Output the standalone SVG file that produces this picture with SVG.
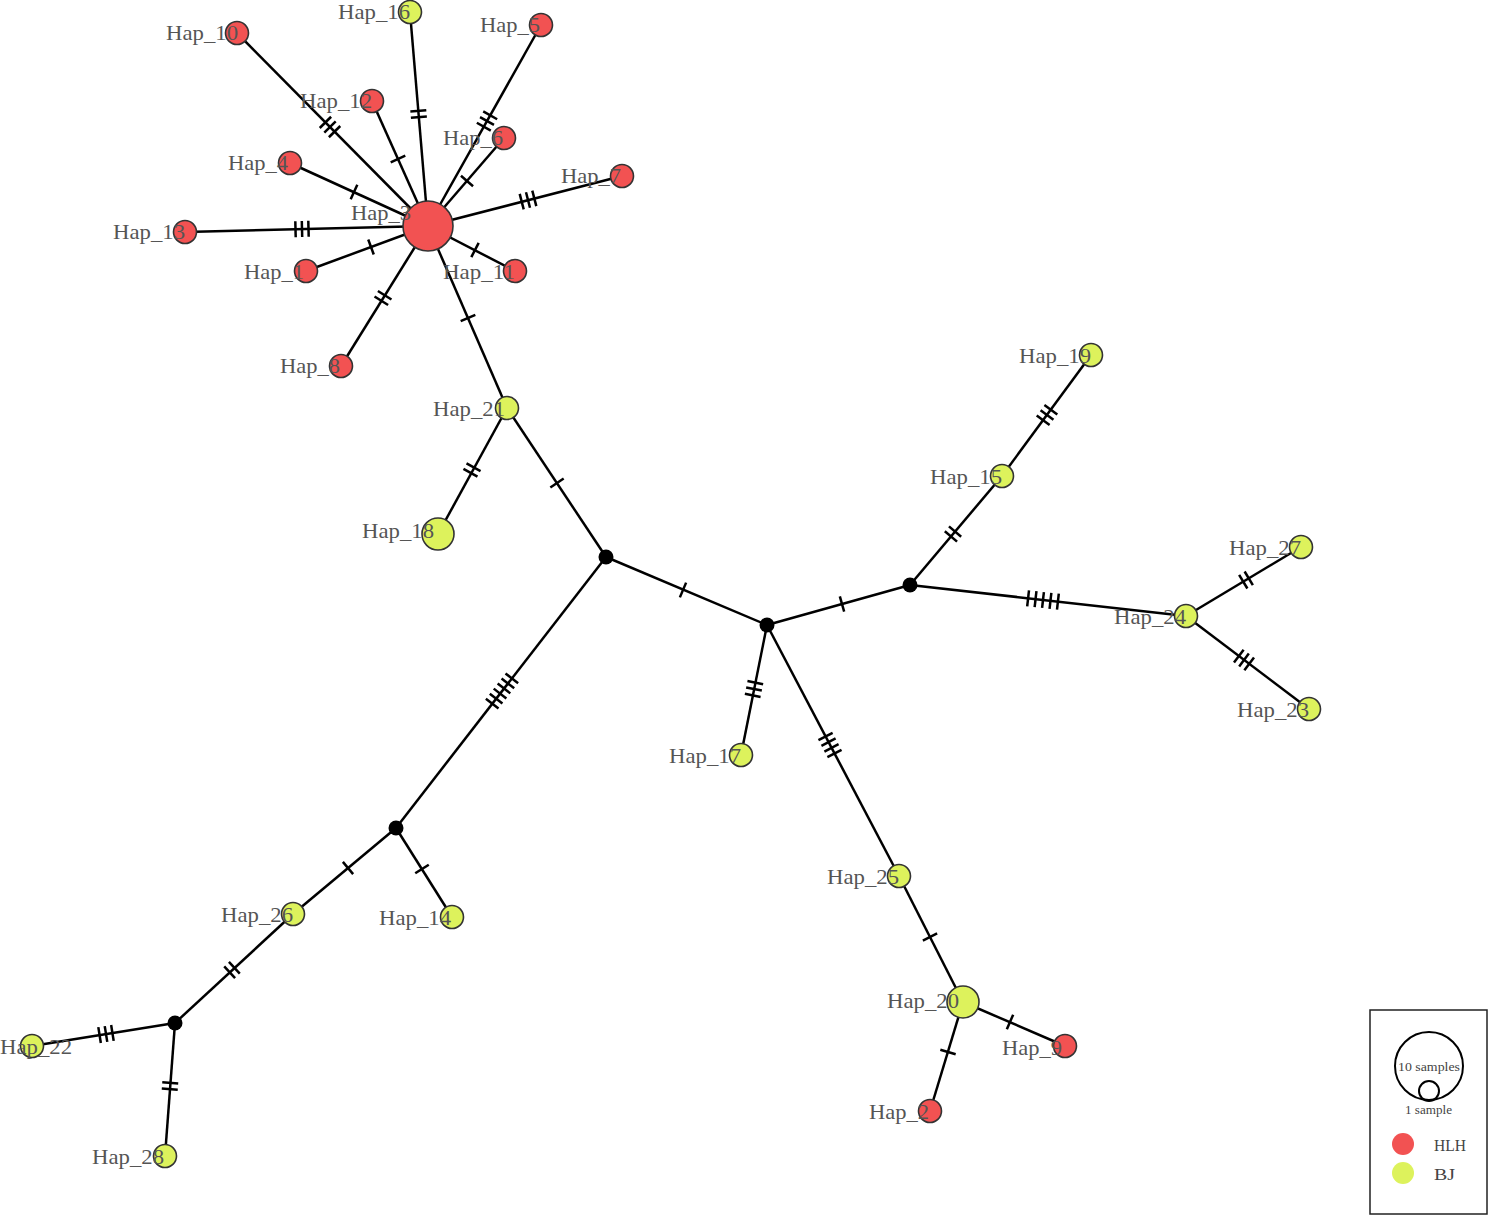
<svg xmlns="http://www.w3.org/2000/svg" xmlns:xlink="http://www.w3.org/1999/xlink" width="1489" height="1216" viewBox="0 0 1489 1216">
<style>
.e{stroke:#000;stroke-width:2.5;fill:none}
.tk line{stroke:#000;stroke-width:2.5}
.lb{font-family:"Liberation Serif","DejaVu Serif",serif;font-size:22px;fill:#555}
.r{fill:#F25252;stroke:#333;stroke-width:1.6}
.y{fill:#DDF25C;stroke:#333;stroke-width:1.6}
.m{fill:#000}
.lg{font-family:"Liberation Serif","DejaVu Serif",serif;fill:#444}
</style>
<defs>
<g id="t1" class="tk"><line x1="0" y1="-8" x2="0" y2="8"/></g>
<g id="t2" class="tk"><line x1="-3.2" y1="-8" x2="-3.2" y2="8"/><line x1="3.2" y1="-8" x2="3.2" y2="8"/></g>
<g id="t3" class="tk"><line x1="-6.5" y1="-8" x2="-6.5" y2="8"/><line x1="0" y1="-8" x2="0" y2="8"/><line x1="6.5" y1="-8" x2="6.5" y2="8"/></g>
<g id="t4" class="tk"><line x1="-9.6" y1="-8" x2="-9.6" y2="8"/><line x1="-3.2" y1="-8" x2="-3.2" y2="8"/><line x1="3.2" y1="-8" x2="3.2" y2="8"/><line x1="9.6" y1="-8" x2="9.6" y2="8"/></g>
<g id="t5" class="tk"><line x1="-15" y1="-8" x2="-15" y2="8"/><line x1="-7.5" y1="-8" x2="-7.5" y2="8"/><line x1="0" y1="-8" x2="0" y2="8"/><line x1="7.5" y1="-8" x2="7.5" y2="8"/><line x1="15" y1="-8" x2="15" y2="8"/></g>
<g id="t6" class="tk"><line x1="-16" y1="-8" x2="-16" y2="8"/><line x1="-9.6" y1="-8" x2="-9.6" y2="8"/><line x1="-3.2" y1="-8" x2="-3.2" y2="8"/><line x1="3.2" y1="-8" x2="3.2" y2="8"/><line x1="9.6" y1="-8" x2="9.6" y2="8"/><line x1="16" y1="-8" x2="16" y2="8"/></g>
</defs>
<rect width="1489" height="1216" fill="#fff"/>
<g id="connectors">
<line class="e" x1="428" y1="226" x2="237" y2="33"/><use xlink:href="#t3" href="#t3" transform="translate(330,127) rotate(45.3)"/>
<line class="e" x1="428" y1="226" x2="372" y2="101"/><use xlink:href="#t1" href="#t1" transform="translate(398,159) rotate(65.9)"/>
<line class="e" x1="428" y1="226" x2="410" y2="12"/><use xlink:href="#t2" href="#t2" transform="translate(418.6,114) rotate(85.2)"/>
<line class="e" x1="428" y1="226" x2="541" y2="25"/><use xlink:href="#t3" href="#t3" transform="translate(487,121) rotate(-60.6)"/>
<line class="e" x1="428" y1="226" x2="504" y2="138"/><use xlink:href="#t1" href="#t1" transform="translate(467,181) rotate(-49.2)"/>
<line class="e" x1="428" y1="226" x2="290" y2="163"/><use xlink:href="#t1" href="#t1" transform="translate(354,192) rotate(24.5)"/>
<line class="e" x1="428" y1="226" x2="622" y2="176"/><use xlink:href="#t3" href="#t3" transform="translate(528,200) rotate(-14.5)"/>
<line class="e" x1="428" y1="226" x2="185" y2="232"/><use xlink:href="#t3" href="#t3" transform="translate(302,229) rotate(-1.4)"/>
<line class="e" x1="428" y1="226" x2="306" y2="271"/><use xlink:href="#t1" href="#t1" transform="translate(371,247) rotate(-20.2)"/>
<line class="e" x1="428" y1="226" x2="515" y2="271"/><use xlink:href="#t1" href="#t1" transform="translate(475,250) rotate(27.4)"/>
<line class="e" x1="428" y1="226" x2="341" y2="366"/><use xlink:href="#t2" href="#t2" transform="translate(383,298) rotate(-58.1)"/>
<line class="e" x1="428" y1="226" x2="507" y2="408"/><use xlink:href="#t1" href="#t1" transform="translate(468,318) rotate(66.5)"/>
<line class="e" x1="507" y1="408" x2="438" y2="534"/><use xlink:href="#t2" href="#t2" transform="translate(472,470) rotate(-61.3)"/>
<line class="e" x1="507" y1="408" x2="606" y2="557"/><use xlink:href="#t1" href="#t1" transform="translate(557,483) rotate(56.4)"/>
<line class="e" x1="606" y1="557" x2="767" y2="625"/><use xlink:href="#t1" href="#t1" transform="translate(683,590) rotate(22.9)"/>
<line class="e" x1="767" y1="625" x2="910" y2="585"/><use xlink:href="#t1" href="#t1" transform="translate(842,604) rotate(-15.6)"/>
<line class="e" x1="910" y1="585" x2="1002" y2="476"/><use xlink:href="#t2" href="#t2" transform="translate(953,534) rotate(-49.8)"/>
<line class="e" x1="1002" y1="476" x2="1091" y2="355"/><use xlink:href="#t3" href="#t3" transform="translate(1047,415) rotate(-53.7)"/>
<line class="e" x1="910" y1="585" x2="1186" y2="616"/><use xlink:href="#t5" href="#t5" transform="translate(1043,600) rotate(6.4)"/>
<line class="e" x1="1186" y1="616" x2="1301" y2="547"/><use xlink:href="#t2" href="#t2" transform="translate(1246,580) rotate(-31)"/>
<line class="e" x1="1186" y1="616" x2="1309" y2="709"/><use xlink:href="#t3" href="#t3" transform="translate(1244,660) rotate(37.1)"/>
<line class="e" x1="767" y1="625" x2="741" y2="755"/><use xlink:href="#t3" href="#t3" transform="translate(754,689) rotate(-78.7)"/>
<line class="e" x1="767" y1="625" x2="899" y2="876"/><use xlink:href="#t4" href="#t4" transform="translate(830,745) rotate(62.3)"/>
<line class="e" x1="899" y1="876" x2="963" y2="1002"/><use xlink:href="#t1" href="#t1" transform="translate(930,937) rotate(63.1)"/>
<line class="e" x1="963" y1="1002" x2="1065" y2="1046"/><use xlink:href="#t1" href="#t1" transform="translate(1010,1022) rotate(23.3)"/>
<line class="e" x1="963" y1="1002" x2="930" y2="1111"/><use xlink:href="#t1" href="#t1" transform="translate(948,1052) rotate(-73.2)"/>
<line class="e" x1="606" y1="557" x2="396" y2="828"/><use xlink:href="#t6" href="#t6" transform="translate(502,691) rotate(-52.2)"/>
<line class="e" x1="396" y1="828" x2="293" y2="914"/><use xlink:href="#t1" href="#t1" transform="translate(348,868) rotate(-39.9)"/>
<line class="e" x1="396" y1="828" x2="452" y2="917"/><use xlink:href="#t1" href="#t1" transform="translate(422,869) rotate(57.8)"/>
<line class="e" x1="293" y1="914" x2="175" y2="1023"/><use xlink:href="#t2" href="#t2" transform="translate(232,970) rotate(-42.7)"/>
<line class="e" x1="175" y1="1023" x2="32" y2="1046"/><use xlink:href="#t3" href="#t3" transform="translate(106,1034) rotate(-9.1)"/>
<line class="e" x1="175" y1="1023" x2="165" y2="1156"/><use xlink:href="#t2" href="#t2" transform="translate(170,1086) rotate(94.3)"/>
</g>
<g id="nodes">
<g id="Hap_10"><circle class="r" cx="237" cy="33" r="11.5"/><text class="lb" x="166" y="40" textLength="72" lengthAdjust="spacingAndGlyphs">Hap_10</text></g>
<g id="Hap_16"><circle class="y" cx="410" cy="12" r="11.5"/><text class="lb" x="338" y="19" textLength="72" lengthAdjust="spacingAndGlyphs">Hap_16</text></g>
<g id="Hap_5"><circle class="r" cx="541" cy="25" r="11.5"/><text class="lb" x="480" y="32" textLength="60" lengthAdjust="spacingAndGlyphs">Hap_5</text></g>
<g id="Hap_12"><circle class="r" cx="372" cy="101" r="11.5"/><text class="lb" x="300" y="108" textLength="72" lengthAdjust="spacingAndGlyphs">Hap_12</text></g>
<g id="Hap_6"><circle class="r" cx="504" cy="138" r="11.5"/><text class="lb" x="443" y="145" textLength="60" lengthAdjust="spacingAndGlyphs">Hap_6</text></g>
<g id="Hap_4"><circle class="r" cx="290" cy="163" r="11.5"/><text class="lb" x="228" y="170" textLength="60" lengthAdjust="spacingAndGlyphs">Hap_4</text></g>
<g id="Hap_7"><circle class="r" cx="622" cy="176" r="11.5"/><text class="lb" x="561" y="183" textLength="60" lengthAdjust="spacingAndGlyphs">Hap_7</text></g>
<g id="Hap_3"><circle class="r" cx="428" cy="226" r="25"/><text class="lb" x="351" y="220" textLength="60" lengthAdjust="spacingAndGlyphs">Hap_3</text></g>
<g id="Hap_13"><circle class="r" cx="185" cy="232" r="11.5"/><text class="lb" x="113" y="239" textLength="72" lengthAdjust="spacingAndGlyphs">Hap_13</text></g>
<g id="Hap_1"><circle class="r" cx="306" cy="271" r="11.5"/><text class="lb" x="244" y="279" textLength="60" lengthAdjust="spacingAndGlyphs">Hap_1</text></g>
<g id="Hap_11"><circle class="r" cx="515" cy="271" r="11.5"/><text class="lb" x="443" y="279" textLength="72" lengthAdjust="spacingAndGlyphs">Hap_11</text></g>
<g id="Hap_8"><circle class="r" cx="341" cy="366" r="11.5"/><text class="lb" x="280" y="373" textLength="60" lengthAdjust="spacingAndGlyphs">Hap_8</text></g>
<g id="Hap_21"><circle class="y" cx="507" cy="408" r="11.5"/><text class="lb" x="433" y="416" textLength="72" lengthAdjust="spacingAndGlyphs">Hap_21</text></g>
<g id="Hap_18"><circle class="y" cx="438" cy="534" r="16"/><text class="lb" x="362" y="538" textLength="72" lengthAdjust="spacingAndGlyphs">Hap_18</text></g>
<g id="Hap_19"><circle class="y" cx="1091" cy="355" r="11.5"/><text class="lb" x="1019" y="363" textLength="72" lengthAdjust="spacingAndGlyphs">Hap_19</text></g>
<g id="Hap_15"><circle class="y" cx="1002" cy="476" r="11.5"/><text class="lb" x="930" y="484" textLength="72" lengthAdjust="spacingAndGlyphs">Hap_15</text></g>
<g id="Hap_27"><circle class="y" cx="1301" cy="547" r="11.5"/><text class="lb" x="1229" y="555" textLength="72" lengthAdjust="spacingAndGlyphs">Hap_27</text></g>
<g id="Hap_24"><circle class="y" cx="1186" cy="616" r="11.5"/><text class="lb" x="1114" y="624" textLength="72" lengthAdjust="spacingAndGlyphs">Hap_24</text></g>
<g id="Hap_23"><circle class="y" cx="1309" cy="709" r="11.5"/><text class="lb" x="1237" y="717" textLength="72" lengthAdjust="spacingAndGlyphs">Hap_23</text></g>
<g id="Hap_17"><circle class="y" cx="741" cy="755" r="11.5"/><text class="lb" x="669" y="763" textLength="72" lengthAdjust="spacingAndGlyphs">Hap_17</text></g>
<g id="Hap_25"><circle class="y" cx="899" cy="876" r="11.5"/><text class="lb" x="827" y="884" textLength="72" lengthAdjust="spacingAndGlyphs">Hap_25</text></g>
<g id="Hap_20"><circle class="y" cx="963" cy="1002" r="16"/><text class="lb" x="887" y="1008" textLength="72" lengthAdjust="spacingAndGlyphs">Hap_20</text></g>
<g id="Hap_9"><circle class="r" cx="1065" cy="1046" r="11.5"/><text class="lb" x="1002" y="1055" textLength="60" lengthAdjust="spacingAndGlyphs">Hap_9</text></g>
<g id="Hap_2"><circle class="r" cx="930" cy="1111" r="11.5"/><text class="lb" x="869" y="1119" textLength="60" lengthAdjust="spacingAndGlyphs">Hap_2</text></g>
<g id="Hap_26"><circle class="y" cx="293" cy="914" r="11.5"/><text class="lb" x="221" y="922" textLength="72" lengthAdjust="spacingAndGlyphs">Hap_26</text></g>
<g id="Hap_14"><circle class="y" cx="452" cy="917" r="11.5"/><text class="lb" x="379" y="925" textLength="72" lengthAdjust="spacingAndGlyphs">Hap_14</text></g>
<g id="Hap_22"><circle class="y" cx="32" cy="1046" r="11.5"/><text class="lb" x="0" y="1054" textLength="72" lengthAdjust="spacingAndGlyphs">Hap_22</text></g>
<g id="Hap_28"><circle class="y" cx="165" cy="1156" r="11.5"/><text class="lb" x="92" y="1164" textLength="72" lengthAdjust="spacingAndGlyphs">Hap_28</text></g>
<g id="median_1"><circle class="m" cx="606" cy="557" r="7.5"/></g>
<g id="median_2"><circle class="m" cx="767" cy="625" r="7.5"/></g>
<g id="median_3"><circle class="m" cx="910" cy="585" r="7.5"/></g>
<g id="median_4"><circle class="m" cx="396" cy="828" r="7.5"/></g>
<g id="median_5"><circle class="m" cx="175" cy="1023" r="7.5"/></g>
</g>
<g id="legend">
<rect x="1370" y="1010" width="117" height="204" fill="#fff" stroke="#222" stroke-width="1.5"/>
<circle cx="1429" cy="1066" r="34" fill="none" stroke="#000" stroke-width="2"/>
<circle cx="1429" cy="1091" r="10" fill="none" stroke="#000" stroke-width="2"/>
<text class="lg" x="1398" y="1071" font-size="12" textLength="62" lengthAdjust="spacingAndGlyphs">10 samples</text>
<text class="lg" x="1405" y="1114" font-size="12" textLength="47" lengthAdjust="spacingAndGlyphs">1 sample</text>
<circle cx="1403" cy="1144" r="11" fill="#F25252"/>
<text class="lg" x="1434" y="1151" font-size="17" textLength="32" lengthAdjust="spacingAndGlyphs">HLH</text>
<circle cx="1403" cy="1173" r="11" fill="#DDF25C"/>
<text class="lg" x="1434" y="1180" font-size="17" textLength="21" lengthAdjust="spacingAndGlyphs">BJ</text>
</g>
</svg>
